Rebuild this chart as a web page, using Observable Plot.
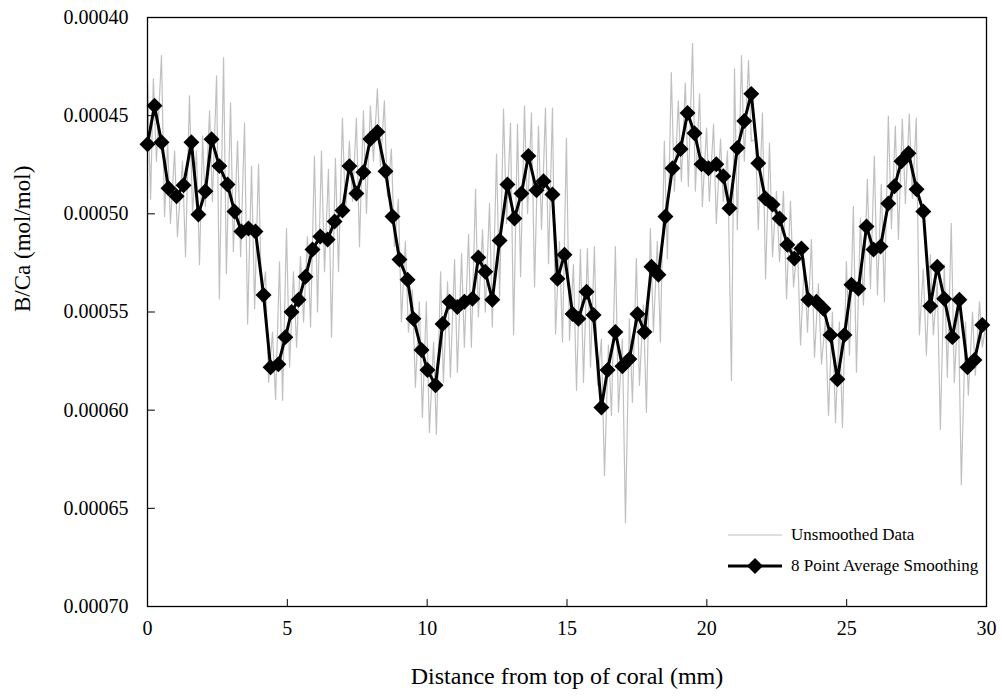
<!DOCTYPE html>
<html>
<head>
<meta charset="utf-8">
<script src="https://cdn.jsdelivr.net/npm/d3@7"></script>
<script src="https://cdn.jsdelivr.net/npm/@observablehq/plot@0.6"></script>
<style>
  body { margin: 0; background: #fff; }
  #wrap { position: relative; width: 1002px; height: 699px; background: #fff; }
  .legend { position: absolute; left: 726px; top: 519px; font-family: "Liberation Serif", "Times New Roman", serif; font-size: 17px; color: #000; }
  .legend .row { display: flex; align-items: center; height: 31px; }
  .legend svg { display: block; }
  .legend span { margin-left: 7px; white-space: nowrap; }
</style>
</head>
<body>
<div id="wrap"></div>
<script>
// ---- data ----
const xTitle = "Distance from top of coral (mm)";
const yTitle = "B/Ca (mol/mol)";
const seriesNames = ["Unsmoothed Data", "8 Point Average Smoothing"];
const xTicks = [0, 5, 10, 15, 20, 25, 30];
const yTicks = [0.00040, 0.00045, 0.00050, 0.00055, 0.00060, 0.00065, 0.00070];

// 8 point average smoothing (distance mm, B/Ca mol/mol)
const smoothX = [0.00,0.25,0.50,0.75,1.04,1.29,1.57,1.82,2.07,2.29,
  2.57,2.86,3.11,3.36,3.61,3.86,4.15,4.40,4.68,4.93,
  5.15,5.40,5.65,5.90,6.18,6.44,6.69,6.97,7.22,7.47,
  7.72,7.97,8.22,8.51,8.76,9.01,9.30,9.51,9.80,10.01,
  10.30,10.55,10.80,11.08,11.33,11.62,11.83,12.08,12.33,12.59,
  12.87,13.12,13.37,13.62,13.91,14.16,14.48,14.66,14.91,15.20,
  15.41,15.70,15.95,16.23,16.45,16.73,16.98,17.23,17.52,17.77,
  18.02,18.27,18.52,18.77,19.06,19.31,19.56,19.81,20.06,20.34,
  20.59,20.81,21.09,21.34,21.59,21.84,22.09,22.35,22.60,22.88,
  23.13,23.38,23.63,23.92,24.17,24.42,24.67,24.92,25.17,25.42,
  25.71,25.96,26.21,26.49,26.71,26.96,27.21,27.50,27.74,27.99,
  28.24,28.49,28.78,29.03,29.32,29.57,29.85];
const smoothY = [0.0004645,0.0004450,0.0004635,0.0004870,0.0004911,0.0004855,0.0004635,0.0005003,0.0004885,0.0004620,
  0.0004757,0.0004850,0.0004988,0.0005090,0.0005075,0.0005090,0.0005413,0.0005781,0.0005766,0.0005628,
  0.0005500,0.0005438,0.0005320,0.0005182,0.0005116,0.0005131,0.0005039,0.0004983,0.0004757,0.0004896,
  0.0004788,0.0004619,0.0004583,0.0004783,0.0005013,0.0005233,0.0005336,0.0005535,0.0005694,0.0005796,
  0.0005873,0.0005561,0.0005448,0.0005474,0.0005448,0.0005433,0.0005223,0.0005295,0.0005438,0.0005136,
  0.0004850,0.0005024,0.0004896,0.0004706,0.0004880,0.0004834,0.0004901,0.0005331,0.0005208,0.0005510,
  0.0005535,0.0005397,0.0005515,0.0005986,0.0005796,0.0005602,0.0005776,0.0005740,0.0005510,0.0005602,
  0.0005269,0.0005310,0.0005013,0.0004768,0.0004670,0.0004486,0.0004589,0.0004747,0.0004768,0.0004747,
  0.0004809,0.0004972,0.0004665,0.0004527,0.0004389,0.0004742,0.0004921,0.0004952,0.0005024,0.0005157,
  0.0005228,0.0005177,0.0005438,0.0005448,0.0005484,0.0005617,0.0005842,0.0005617,0.0005361,0.0005382,
  0.0005065,0.0005182,0.0005167,0.0004947,0.0004860,0.0004732,0.0004691,0.0004875,0.0004988,0.0005469,
  0.0005269,0.0005433,0.0005628,0.0005438,0.0005781,0.0005745,0.0005566];

// unsmoothed data (distance mm, B/Ca mol/mol)
const rawX = [0.00,0.11,0.21,0.32,0.50,0.61,0.72,0.82,0.97,1.07,1.25,1.36,1.50,1.61,1.75,1.86,1.97,2.07,2.22,2.32,
  2.47,2.57,2.72,2.82,2.97,3.07,3.22,3.33,3.47,3.58,3.72,3.83,3.97,4.08,4.22,4.33,4.47,4.58,4.72,4.83,
  4.97,5.08,5.22,5.33,5.47,5.58,5.72,5.83,5.97,6.08,6.22,6.33,6.47,6.58,6.72,6.83,6.97,7.08,7.22,7.33,
  7.47,7.58,7.72,7.83,7.97,8.08,8.22,8.33,8.47,8.58,8.72,8.83,8.97,9.08,9.22,9.33,9.47,9.58,9.72,9.83,
  9.97,10.08,10.23,10.33,10.48,10.58,10.73,10.83,10.98,11.08,11.23,11.33,11.48,11.58,11.73,11.83,11.98,12.08,12.23,12.33,
  12.48,12.59,12.73,12.84,12.98,13.09,13.23,13.34,13.48,13.59,13.73,13.84,13.98,14.09,14.23,14.34,14.48,14.59,14.73,14.84,
  14.98,15.09,15.23,15.34,15.48,15.59,15.73,15.84,15.98,16.09,16.23,16.34,16.48,16.59,16.73,16.84,16.98,17.09,17.23,17.34,
  17.48,17.59,17.73,17.84,17.98,18.09,18.23,18.34,18.48,18.59,18.73,18.84,18.98,19.09,19.23,19.34,19.49,19.59,19.74,19.84,
  19.99,20.09,20.24,20.34,20.49,20.59,20.74,20.88,20.99,21.09,21.24,21.34,21.49,21.59,21.74,21.84,21.99,22.10,22.24,22.35,
  22.49,22.60,22.74,22.85,22.99,23.10,23.24,23.35,23.49,23.60,23.74,23.85,23.99,24.10,24.24,24.35,24.49,24.60,24.74,24.85,
  24.99,25.10,25.24,25.35,25.49,25.60,25.74,25.85,25.99,26.10,26.24,26.35,26.49,26.60,26.74,26.85,26.99,27.10,27.24,27.35,
  27.49,27.60,27.74,27.85,27.99,28.10,28.24,28.35,28.49,28.60,28.74,28.85,28.99,29.10,29.25,29.35,29.50,29.60,29.75,29.85,
  30.00];
const rawY = [0.0004322,0.0004926,0.0004312,0.0004732,0.0004194,0.0005013,0.0004630,0.0005049,0.0004681,0.0005116,0.0004732,0.0005218,0.0004399,0.0004998,0.0004681,0.0005259,0.0004604,0.0004962,0.0004476,0.0004937,
  0.0004297,0.0005433,0.0004205,0.0005305,0.0004435,0.0005192,0.0004630,0.0005218,0.0004537,0.0005561,0.0004757,0.0005484,0.0004747,0.0005448,0.0005295,0.0005858,0.0005602,0.0005945,0.0005244,0.0005950,
  0.0005075,0.0005781,0.0005295,0.0005679,0.0005218,0.0005551,0.0005116,0.0005576,0.0004706,0.0005500,0.0004681,0.0005295,0.0004773,0.0005628,0.0004717,0.0005295,0.0004512,0.0004998,0.0004630,0.0004937,
  0.0004512,0.0005167,0.0004476,0.0004998,0.0004450,0.0004732,0.0004363,0.0004757,0.0004425,0.0004911,0.0004670,0.0005167,0.0004926,0.0005551,0.0005141,0.0005602,0.0005387,0.0005883,0.0005448,0.0006037,
  0.0005448,0.0006114,0.0005653,0.0006124,0.0005295,0.0005858,0.0005346,0.0005832,0.0005233,0.0005807,0.0005203,0.0005679,0.0005105,0.0005679,0.0004875,0.0005525,0.0005080,0.0005500,0.0004947,0.0005576,
  0.0004696,0.0005423,0.0004466,0.0005049,0.0004537,0.0005617,0.0004543,0.0005320,0.0004450,0.0004998,0.0004486,0.0005372,0.0004553,0.0005080,0.0004461,0.0005254,0.0004461,0.0005612,0.0005141,0.0005653,
  0.0004614,0.0005643,0.0005259,0.0005899,0.0005182,0.0005858,0.0005177,0.0005781,0.0005167,0.0005873,0.0005638,0.0006334,0.0005668,0.0006027,0.0005167,0.0006011,0.0005638,0.0006574,0.0005535,0.0005960,
  0.0005228,0.0005873,0.0005464,0.0006011,0.0005075,0.0005602,0.0005141,0.0005653,0.0004630,0.0005228,0.0004281,0.0004885,0.0004425,0.0004834,0.0004333,0.0004860,0.0004133,0.0004885,0.0004389,0.0004962,
  0.0004563,0.0004937,0.0004543,0.0005049,0.0004619,0.0004937,0.0004681,0.0005848,0.0004261,0.0005080,0.0004194,0.0004732,0.0004220,0.0004630,0.0004619,0.0005080,0.0004486,0.0005331,0.0004640,0.0005218,
  0.0004885,0.0005244,0.0004885,0.0005433,0.0004937,0.0005372,0.0005152,0.0005668,0.0005228,0.0005602,0.0005131,0.0005730,0.0005356,0.0005766,0.0005541,0.0006027,0.0005500,0.0006063,0.0005551,0.0006088,
  0.0005244,0.0005720,0.0004962,0.0005807,0.0005024,0.0005464,0.0004824,0.0005382,0.0004706,0.0005413,0.0004850,0.0005448,0.0004502,0.0005075,0.0004553,0.0005131,0.0004517,0.0004947,0.0004491,0.0004921,
  0.0004512,0.0005617,0.0005280,0.0005720,0.0005208,0.0005617,0.0005346,0.0006098,0.0005259,0.0005832,0.0005049,0.0005858,0.0005448,0.0006380,0.0005551,0.0005924,0.0005500,0.0005822,0.0005448,0.0005679,
  0.0005551];

// ---- tables built from the arrays ----
const smooth = smoothX.map((x, i) => ({x, y: smoothY[i]}));
const raw = rawX.map((x, i) => ({x, y: rawY[i]}));

const tickShape = {draw(context, l) { context.moveTo(0, 0); context.lineTo(0, -l); }};
const serif = '"Liberation Serif", "Times New Roman", serif';
const fmtY = d3.format(".5f");

const chart = Plot.plot({
  width: 1002,
  height: 699,
  marginLeft: 147,
  marginRight: 16,
  marginTop: 17,
  marginBottom: 93,
  style: {fontFamily: serif, fontSize: "20px", background: "#fff", color: "#000", overflow: "visible"},
  x: {domain: [0, 30], axis: null},
  y: {domain: [0.0004, 0.0007], reverse: true, axis: null},
  marks: [
    Plot.line(raw, {x: "x", y: "y", stroke: "#c0c0c0", strokeWidth: 1.2}),
    Plot.line(smooth, {x: "x", y: "y", stroke: "#000", strokeWidth: 3}),
    Plot.dot(smooth, {x: "x", y: "y", symbol: "diamond2", fill: "#000", stroke: "none", r: 7.2}),
    // tick labels
    Plot.text(xTicks, {x: d => d, text: d => String(d), frameAnchor: "bottom", dy: 28, fontSize: 20, fontFamily: serif, fill: "#000"}),
    Plot.text(yTicks, {y: d => d, text: d => fmtY(d), frameAnchor: "left", dx: -19, textAnchor: "end", fontSize: 20, fontFamily: serif, fill: "#000"}),
    // inward ticks
    Plot.vector(xTicks, {x: d => d, frameAnchor: "bottom", length: 7, shape: tickShape, anchor: "start", stroke: "#000", strokeWidth: 1}),
    Plot.vector(yTicks, {y: d => d, frameAnchor: "left", length: 7, rotate: 90, shape: tickShape, anchor: "start", stroke: "#000", strokeWidth: 1}),
    Plot.frame({stroke: "#000", strokeWidth: 1.3}),
    // axis titles
    Plot.text([xTitle], {text: d => d, frameAnchor: "bottom", dy: 77, fontSize: 24, fontFamily: serif, fill: "#000"}),
    Plot.text([yTitle], {text: d => d, frameAnchor: "left", dx: -125, rotate: -90, fontSize: 23, fontFamily: serif, fill: "#000"})
  ]
});

const wrap = document.getElementById("wrap");
wrap.appendChild(chart);

// legend (inside plot area, lower right)
const legend = document.createElement("div");
legend.className = "legend";
legend.innerHTML = `
  <div class="row"><svg width="58" height="20"><line x1="2" y1="10" x2="56" y2="10" stroke="#c0c0c0" stroke-width="1"/></svg><span>${seriesNames[0]}</span></div>
  <div class="row"><svg width="58" height="20"><line x1="2" y1="10" x2="56" y2="10" stroke="#000" stroke-width="3"/><path d="M29,2 L37,10 L29,18 L21,10 Z" fill="#000"/></svg><span>${seriesNames[1]}</span></div>`;
wrap.appendChild(legend);
</script>
</body>
</html>
